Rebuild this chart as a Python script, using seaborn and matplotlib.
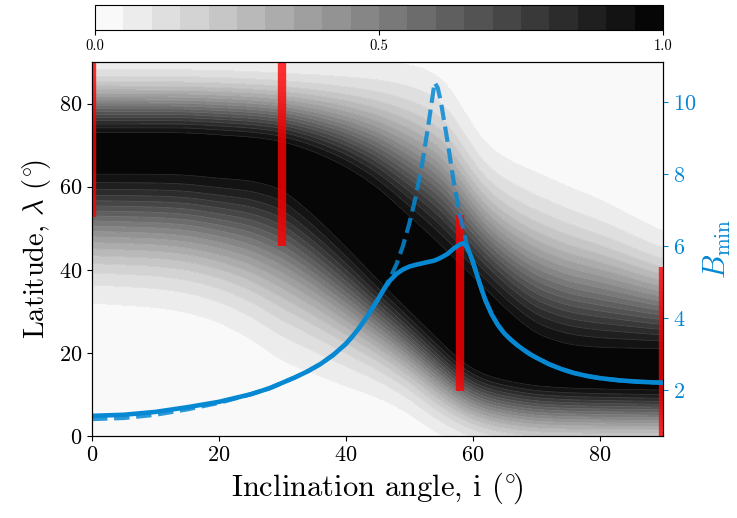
import numpy as np
import pandas as pd
import matplotlib
matplotlib.use("Agg")
import matplotlib.pyplot as plt
import seaborn as sns

# ---------------- data ----------------
# B_min curves (right axis)
incl_solid = [0, 5, 10, 15, 20, 25, 28, 30, 32, 34, 36, 38, 40, 41, 42, 43, 44, 45, 46, 47,
              48, 49, 50, 51, 52, 53, 54, 55, 56, 57, 58, 58.5, 59, 59.5, 60, 60.5, 61, 61.5,
              62, 63, 64, 65, 66, 67, 68, 69, 70, 72, 74, 76, 78, 80, 83, 86, 90]
B_solid = [1.28, 1.31, 1.39, 1.52, 1.67, 1.88, 2.05, 2.20, 2.35, 2.52, 2.72, 2.97, 3.28, 3.48,
           3.70, 3.95, 4.22, 4.50, 4.80, 5.05, 5.23, 5.35, 5.43, 5.48, 5.52, 5.56, 5.60, 5.68,
           5.78, 5.93, 6.05, 6.08, 6.00, 5.82, 5.58, 5.30, 5.02, 4.75, 4.50, 4.10, 3.80, 3.57,
           3.40, 3.25, 3.12, 3.00, 2.90, 2.72, 2.58, 2.47, 2.39, 2.33, 2.27, 2.23, 2.20]
incl_dashed = [0, 5, 10, 15, 20, 25, 28, 30, 32, 34, 36, 38, 40, 41, 42, 43, 44, 45, 46, 47,
               48, 49, 50, 51, 52, 53, 53.5, 54, 54.5, 55, 56, 57, 58, 58.5, 59, 59.5, 60,
               60.5, 61, 61.5, 62, 63, 64, 65, 66, 67, 68, 69, 70, 72, 74, 76, 78, 80, 83,
               86, 90]
B_dashed = [1.19, 1.22, 1.31, 1.46, 1.64, 1.88, 2.05, 2.20, 2.35, 2.52, 2.72, 2.97, 3.28, 3.48,
            3.70, 3.95, 4.22, 4.50, 4.80, 5.12, 5.50, 6.00, 6.62, 7.35, 8.25, 9.35, 9.95,
            10.55, 10.40, 10.00, 8.95, 7.80, 6.85, 6.50, 6.10, 5.82, 5.58, 5.30, 5.02, 4.75,
            4.50, 4.10, 3.80, 3.57, 3.40, 3.25, 3.12, 3.00, 2.90, 2.72, 2.58, 2.47, 2.39,
            2.33, 2.27, 2.23, 2.20]

# red bars: inclination, latitude range
bar_incl = [0, 30, 58, 90]
bar_lat_lo = [52.7, 45.7, 10.8, 0.0]
bar_lat_hi = [92.0, 92.0, 53.2, 40.7]

# shaded map: contour positions (latitude) of the 0.05 and 0.95 levels per inclination
field_incl = [0, 10, 15, 20, 25, 30, 35, 40, 45, 50, 54, 56, 58, 60, 62, 66, 70, 75, 80, 90]
lat_hi05 = [90.8, 90.7, 90.6, 90.5, 90.3, 90.0, 90.0, 90.0, 90.0, 89.5, 87.5, 85.0, 80.0,
            74.5, 70.0, 66.0, 63.5, 60.0, 57.0, 49.0]
lat_hi95 = [73.0, 73.0, 73.0, 72.5, 72.0, 71.0, 68.5, 65.0, 60.0, 53.0, 47.5, 44.5, 41.5,
            38.5, 35.5, 29.5, 24.5, 22.0, 21.3, 21.0]
lat_lo95 = [63.0, 63.0, 62.8, 62.0, 61.5, 59.5, 53.0, 45.5, 37.5, 30.0, 24.0, 21.0, 18.0,
            16.0, 14.5, 13.0, 12.0, 11.5, 11.3, 11.0]
lat_lo05 = [32.0, 31.0, 29.8, 27.5, 23.5, 18.0, 15.0, 12.0, 9.4, 5.5, 1.0, -0.5, -2.0,
            -3.0, -4.0, -5.0, -5.5, -5.5, -5.5, -5.5]

cbar_ticks = [0.0, 0.5, 1.0]
x_ticks = [0, 20, 40, 60, 80]
y_ticks = [0, 20, 40, 60, 80]
b_ticks = [2, 4, 6, 8, 10]

# ---------------- style ----------------
sns.set_style("ticks", {"axes.edgecolor": "black", "xtick.color": "black",
                        "ytick.color": "black", "text.color": "black",
                        "axes.labelcolor": "black"})
plt.rcParams["font.family"] = "serif"
plt.rcParams["font.serif"] = ["cmr10"]
plt.rcParams["mathtext.fontset"] = "cm"
plt.rcParams["axes.formatter.use_mathtext"] = True
plt.rcParams["axes.unicode_minus"] = False

BLUE = "#0788d3"

# ---------------- build the shaded field ----------------
ii = np.linspace(0, 90, 361)
ll = np.linspace(0, 90, 361)


def smooth_curve(nodes):
    v = np.interp(ii, field_incl, nodes)
    sig = 6.0
    k = np.arange(-24, 25)
    w = np.exp(-0.5 * (k / sig) ** 2)
    w /= w.sum()
    vp = np.pad(v, 24, mode="edge")
    return np.convolve(vp, w, mode="valid")


h05 = smooth_curve(lat_hi05)
h95 = smooth_curve(lat_hi95)
l95 = smooth_curve(lat_lo95)
l05 = smooth_curve(lat_lo05)

d95 = np.sqrt(-np.log(0.95))
d05 = np.sqrt(-np.log(0.05))
I, L = np.meshgrid(ii, ll)
H05, H95, L95, L05 = [np.broadcast_to(a, I.shape) for a in (h05, h95, l95, l05)]
mid = 0.5 * (H95 + L95)
half = 0.5 * (H95 - L95)
d = np.where(L > H95, d95 + (L - H95) / (H05 - H95) * (d05 - d95),
             np.where(L < L95, d95 + (L95 - L) / (L95 - L05) * (d05 - d95),
                      d95 * np.abs(L - mid) / half))
Z = np.exp(-d ** 2)

# ---------------- figure ----------------
fig = plt.figure(figsize=(7.37, 5.18), dpi=100)
ax = fig.add_axes([92 / 737, 1 - 436 / 518, 571 / 737, 374 / 518])
levels = np.linspace(0, 1, 21)
cs = ax.contourf(I, L, Z, levels=levels, cmap="gray_r", vmin=0, vmax=1)
ax.contour(I, L, Z, levels=levels[1:-1], colors="white", linewidths=0.5, alpha=0.18)

ax.vlines(bar_incl, bar_lat_lo, bar_lat_hi, colors="red", alpha=0.8, linewidth=6,
          capstyle="butt", zorder=3)

ax.set_xlim(0, 90)
ax.set_ylim(0, 90)
ax.set_xticks(x_ticks)
ax.set_yticks(y_ticks)
ax.tick_params(labelsize=16)
ax.set_xlabel(r"Inclination angle, i ($^{\circ}\!$)", fontsize=22)
ax.set_ylabel(r"Latitude, $\lambda$ ($^{\circ}\!$)", fontsize=20.5)

ax2 = ax.twinx()
df_d = pd.DataFrame({"incl": incl_dashed, "B": B_dashed})
df_s = pd.DataFrame({"incl": incl_solid, "B": B_solid})
sns.lineplot(data=df_d, x="incl", y="B", ax=ax2, color=BLUE, linewidth=3.0,
             linestyle="--", alpha=0.85, errorbar=None)
sns.lineplot(data=df_s, x="incl", y="B", ax=ax2, color=BLUE, linewidth=3.3,
             errorbar=None)
ax2.set_ylim(0.72, 11.12)
ax2.set_xlim(0, 90)
ax2.set_yticks(b_ticks)
ax2.tick_params(axis="y", colors=BLUE, labelsize=16)
ax2.set_ylabel(r"$B_{\rm min}$", color=BLUE, fontsize=22)
ax2.set_xlabel("")
for s in ax2.spines.values():
    s.set_color("black")

cax = fig.add_axes([95 / 737, 1 - 30 / 518, 568 / 737, 25 / 518])
cb = fig.colorbar(cs, cax=cax, orientation="horizontal", ticks=cbar_ticks)
cb.ax.set_xticklabels(["0.0", "0.5", "1.0"])
cb.ax.tick_params(labelsize=10.5)
cb.outline.set_edgecolor("black")

fig.savefig("out.png", dpi=100)
